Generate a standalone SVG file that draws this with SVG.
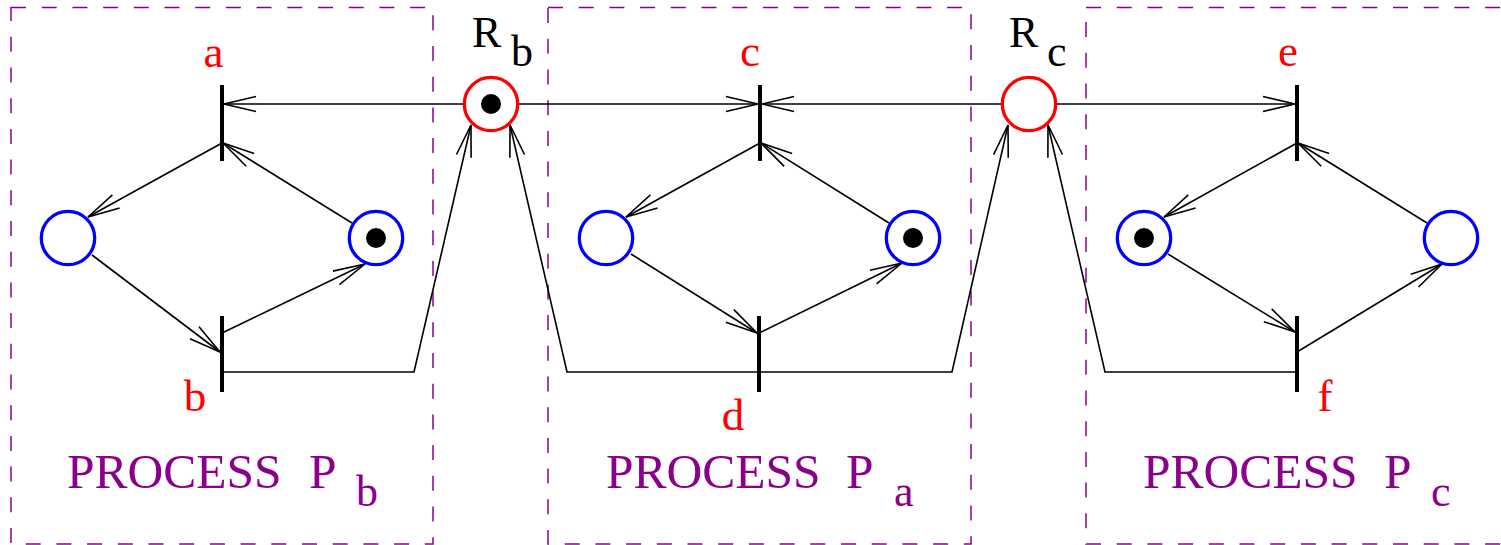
<svg xmlns="http://www.w3.org/2000/svg" width="1501" height="545" viewBox="0 0 1501 545">
<defs>
<marker id="ah" markerUnits="userSpaceOnUse" orient="auto" refX="0" refY="0" markerWidth="40" markerHeight="20" viewBox="-34 -10 36 20" overflow="visible">
<path d="M-32,-7.5 L0,0 L-32,7.5" fill="none" stroke="#000" stroke-width="1.6"/>
</marker>
</defs>
<style>
.box{fill:none;stroke:#8b008b;stroke-width:1.5;stroke-dasharray:15 15.7}
.arc{fill:none;stroke:#000;stroke-width:1.6;marker-end:url(#ah)}
.tr{stroke:#000;stroke-width:4;fill:none}
.pl{fill:#fff;stroke:#0000ff;stroke-width:3.3}
.res{fill:#fff;stroke:#ff0000;stroke-width:3.3}
.tok{fill:#000}
text{font-family:'Liberation Serif','Times New Roman','DejaVu Serif',serif}
.lbl{font-size:45px;fill:#ff0000}
.rn{font-size:44px;fill:#000}
.proc{font-size:49.5px;fill:#8b008b}
.sub{font-size:44px;fill:#8b008b}
</style>
<g id="boxes">
<rect class="box" x="11" y="7.5" width="422" height="536.5"/>
<rect class="box" x="548" y="7.5" width="423" height="536.5"/>
<rect class="box" x="1086" y="7.5" width="430" height="536.5"/>
</g>
<g id="connectors">
<path class="arc" d="M463,104 L224,104"/>
<path class="arc" d="M519,104 L758,104"/>
<path class="arc" d="M1001,104 L762,104"/>
<path class="arc" d="M1057,104 L1295,104"/>
<path class="arc" d="M222,143 L88,217"/>
<path class="arc" d="M352,223 L223,143"/>
<path class="arc" d="M92,255 L220,352"/>
<path class="arc" d="M222,333 L365,264"/>
<path class="arc" d="M222,372 L414,372 L471,125"/>
<path class="arc" d="M760,143 L626,217"/>
<path class="arc" d="M889,223 L761,143"/>
<path class="arc" d="M631,254 L757,333"/>
<path class="arc" d="M759,333 L902,263"/>
<path class="arc" d="M759,372 L567,372 L510,125"/>
<path class="arc" d="M759,372 L952,372 L1008,125"/>
<path class="arc" d="M1297,143 L1164,217"/>
<path class="arc" d="M1427,223 L1298,143"/>
<path class="arc" d="M1168,254 L1295,332"/>
<path class="arc" d="M1297,352 L1442,264"/>
<path class="arc" d="M1297,372 L1105,372 L1048,125"/>
</g>
<g id="t_a"><path class="tr" d="M222,85 V161"/><text class="lbl" x="213.5" y="67" text-anchor="middle">a</text></g>
<g id="t_b"><path class="tr" d="M222,316 V392"/><text class="lbl" x="195" y="411" text-anchor="middle">b</text></g>
<g id="t_c"><path class="tr" d="M760,85 V161"/><text class="lbl" x="750" y="66" text-anchor="middle">c</text></g>
<g id="t_d"><path class="tr" d="M759,316 V392"/><text class="lbl" x="733" y="430" text-anchor="middle">d</text></g>
<g id="t_e"><path class="tr" d="M1297,85 V161"/><text class="lbl" x="1288" y="66" text-anchor="middle">e</text></g>
<g id="t_f"><path class="tr" d="M1297,316 V392"/><text class="lbl" x="1325" y="411" text-anchor="middle">f</text></g>
<g id="p_b1"><circle class="pl" cx="68" cy="238" r="26.7"/></g>
<g id="p_b2"><circle class="pl" cx="376" cy="238" r="26.7"/><circle class="tok" cx="376" cy="238" r="10"/></g>
<g id="p_a1"><circle class="pl" cx="606" cy="238" r="26.7"/></g>
<g id="p_a2"><circle class="pl" cx="913" cy="238" r="26.7"/><circle class="tok" cx="913" cy="238" r="10"/></g>
<g id="p_c1"><circle class="pl" cx="1144" cy="238" r="26.7"/><circle class="tok" cx="1144" cy="238" r="10"/></g>
<g id="p_c2"><circle class="pl" cx="1451" cy="238" r="26.7"/></g>
<g id="r_b"><circle class="res" cx="491" cy="104" r="26.7"/><circle class="tok" cx="491" cy="104" r="10"/><text class="rn" x="472" y="47">R</text><text class="rn" x="511" y="66">b</text></g>
<g id="r_c"><circle class="res" cx="1029" cy="104" r="26.7"/><text class="rn" x="1009" y="47">R</text><text class="rn" x="1047" y="66">c</text></g>
<g id="proc_b"><text class="proc" x="67" y="488">PROCESS</text><text class="proc" x="309" y="488">P</text><text class="sub" x="356" y="506">b</text></g>
<g id="proc_a"><text class="proc" x="606" y="488">PROCESS</text><text class="proc" x="846" y="488">P</text><text class="sub" x="894" y="506">a</text></g>
<g id="proc_c"><text class="proc" x="1143" y="488">PROCESS</text><text class="proc" x="1384" y="488">P</text><text class="sub" x="1431" y="506">c</text></g>
</svg>
